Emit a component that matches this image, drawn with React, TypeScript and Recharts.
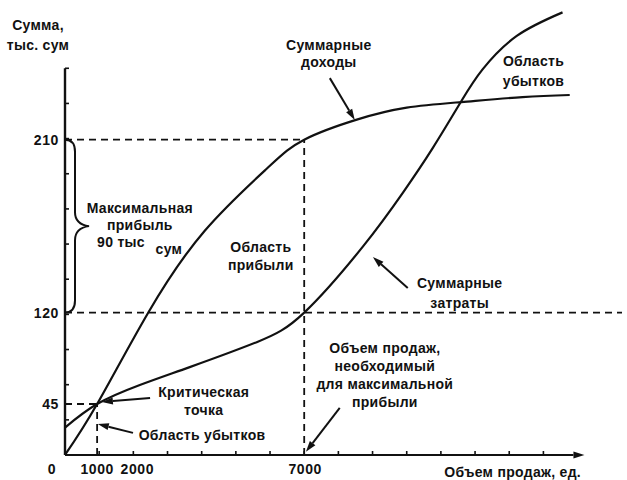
import { Line, LineChart, ReferenceDot, ReferenceLine, XAxis, YAxis } from "recharts";

// объём продаж, тыс. ед.
const revenueVolume = [0, 0.94, 2.43, 4.09, 5.91, 7.0, 8.54, 10.0, 11.6, 13.39, 14.77];
// суммы — в делениях оси Y (шкала на рисунке не линейная)
const revenueSum = [0, 1.45, 4.04, 6.38, 8.15, 8.97, 9.54, 9.88, 10.04, 10.18, 10.24];

const costVolume = [0, 0.94, 2.19, 3.65, 5.61, 7.0, 8.71, 9.88, 10.76, 11.6, 12.22, 13.22, 14.56];
const costSum = [0.78, 1.45, 1.99, 2.5, 3.21, 4.05, 5.92, 7.45, 8.73, 10.07, 10.97, 11.92, 12.59];

const xTicks = [0, 1, 2, 3, 4, 5, 6, 7, 8, 9, 10, 11, 12, 13, 14];
const xTickLabels: Record<number, string> = { 0: "0", 1: "1000", 2: "2000", 7: "7000" };

const yGridTicks = [1, 2, 3, 4, 5, 6, 7, 8, 9, 10, 11];
const ySumLabels = ["45", "120", "210"];
const ySumLevels = [1.45, 4.05, 8.97];

const breakEven = { x: 0.94, y: 1.45 };
const bestVolume = 7;

const revenue = revenueVolume.map((x, i) => ({ x, y: revenueSum[i] }));
const cost = costVolume.map((x, i) => ({ x, y: costSum[i] }));

const FONT = "'Liberation Sans', Arial, sans-serif";
const INK = "#111";

function XTick(props: any) {
  const { x, y, payload } = props;
  const v = payload.value;
  const label = xTickLabels[v];
  const dx = v === 0 ? -13 : v === 1 ? -2 : v === 2 ? 4 : 1;
  return (
    <g>
      {v > 0 && <line x1={x} y1={y} x2={x} y2={y - 4} stroke={INK} strokeWidth={1.6} />}
      {label && (
        <text x={x + dx} y={y + 14} textAnchor="middle" dominantBaseline="central"
          fontFamily={FONT} fontWeight="bold" fontSize={14} letterSpacing={0.6} fill={INK}>
          {label}
        </text>
      )}
    </g>
  );
}

function YTick(props: any) {
  const { x, y, payload } = props;
  const idx = ySumLevels.indexOf(payload.value);
  if (idx >= 0) {
    return (
      <text x={x - 6} y={y} textAnchor="end" dominantBaseline="central"
        fontFamily={FONT} fontWeight="bold" fontSize={14} letterSpacing={0.6} fill={INK}>
        {ySumLabels[idx]}
      </text>
    );
  }
  return <line x1={x} y1={y} x2={x + 4} y2={y} stroke={INK} strokeWidth={1.6} />;
}

function arrowShape(p: any) {
  const { x1, y1, x2, y2 } = p;
  const a = Math.atan2(y2 - y1, x2 - x1);
  const len = 11;
  const w = 3.5;
  const bx = x2 - len * Math.cos(a);
  const by = y2 - len * Math.sin(a);
  const nx = -Math.sin(a) * w;
  const ny = Math.cos(a) * w;
  return (
    <g>
      <line x1={x1} y1={y1} x2={bx} y2={by} stroke={INK} strokeWidth={2} />
      <polygon points={`${x2},${y2} ${bx + nx},${by + ny} ${bx - nx},${by - ny}`} fill={INK} />
    </g>
  );
}

function braceShape(p: any) {
  const { x1, y1, y2 } = p;
  const top = Math.min(y1, y2);
  const bot = Math.max(y1, y2);
  const mid = (top + bot) / 2;
  const bx = x1 + 10;
  const d = `M${x1},${top} Q${bx},${top} ${bx},${top + 12} L${bx},${mid - 14} Q${bx},${mid - 2} ${x1 + 24},${mid}
    Q${bx},${mid + 2} ${bx},${mid + 14} L${bx},${bot - 12} Q${bx},${bot} ${x1},${bot}`;
  return <path d={d} fill="none" stroke={INK} strokeWidth={2} />;
}

function note(lines: string[], gap = 18) {
  return (p: any) => (
    <text x={p.cx} y={p.cy} textAnchor="middle" dominantBaseline="central"
      fontFamily={FONT} fontWeight="bold" fontSize={14} letterSpacing={0.3} fill={INK}>
      {lines.map((t, i) => (
        <tspan key={i} x={p.cx} dy={i === 0 ? 0 : gap}>{t}</tspan>
      ))}
    </text>
  );
}

const dash = { stroke: INK, strokeWidth: 1.8, strokeDasharray: "7 5", ifOverflow: "visible" as const };

export default function App() {
  return (
    <div style={{ position: "absolute", left: 0, top: 0, width: 627, height: 480, background: "#fff" }}>
      <LineChart width={627} height={480} margin={{ top: 5, right: 5, bottom: 0, left: 0 }}>
        <XAxis type="number" dataKey="x" domain={[0, 16.3]} ticks={xTicks} interval={0}
          axisLine={false} tickLine={false} tickSize={0} tickMargin={0} height={25} tick={<XTick />} />
        <YAxis type="number" domain={[0, 12.8]} ticks={[...yGridTicks, ...ySumLevels].sort((a, b) => a - b)}
          interval={0} axisLine={false} tickLine={false} tickSize={0} tickMargin={0} width={65} tick={<YTick />} />

        {/* оси */}
        <ReferenceLine segment={[{ x: 0, y: 0 }, { x: 0, y: 11 }]} stroke={INK} strokeWidth={2.4} ifOverflow="visible" />
        <ReferenceLine segment={[{ x: 0, y: 0 }, { x: 15.2, y: 0 }]} ifOverflow="visible" shape={arrowShape} />

        {/* пунктирные уровни */}
        <ReferenceLine segment={[{ x: 0, y: ySumLevels[2] }, { x: bestVolume, y: ySumLevels[2] }]} {...dash} />
        <ReferenceLine segment={[{ x: bestVolume, y: 0 }, { x: bestVolume, y: ySumLevels[2] }]} {...dash} />
        <ReferenceLine segment={[{ x: 0, y: ySumLevels[1] }, { x: 16.3, y: ySumLevels[1] }]} {...dash} />
        <ReferenceLine segment={[{ x: 0, y: breakEven.y }, { x: breakEven.x, y: breakEven.y }]} {...dash} />
        <ReferenceLine segment={[{ x: breakEven.x, y: 0 }, { x: breakEven.x, y: breakEven.y }]} {...dash} />

        <ReferenceLine segment={[{ x: 0, y: ySumLevels[2] }, { x: 0, y: ySumLevels[1] }]} ifOverflow="visible" shape={braceShape} />

        <Line data={revenue} dataKey="y" type="natural" stroke={INK} strokeWidth={2.2} dot={false} isAnimationActive={false} />
        <Line data={cost} dataKey="y" type="natural" stroke={INK} strokeWidth={2.2} dot={false} isAnimationActive={false} />

        {/* стрелки-выноски */}
        <ReferenceLine segment={[{ x: 2.49, y: 1.62 }, { x: 1.08, y: 1.51 }]} ifOverflow="visible" shape={arrowShape} />
        <ReferenceLine segment={[{ x: 1.99, y: 0.63 }, { x: 0.96, y: 0.88 }]} ifOverflow="visible" shape={arrowShape} />
        <ReferenceLine segment={[{ x: 7.75, y: 10.72 }, { x: 8.48, y: 9.53 }]} ifOverflow="visible" shape={arrowShape} />
        <ReferenceLine segment={[{ x: 10.03, y: 4.75 }, { x: 9.01, y: 5.63 }]} ifOverflow="visible" shape={arrowShape} />
        <ReferenceLine segment={[{ x: 8.04, y: 1.34 }, { x: 7.05, y: 0.09 }]} ifOverflow="visible" shape={arrowShape} />

        {/* подписи */}
        <ReferenceDot x={-0.79} y={12.23} r={0} ifOverflow="visible" shape={note(["Сумма,", "тыс. сум"], 20)} />
        <ReferenceDot x={2.19} y={7.02} r={0} ifOverflow="visible" shape={note(["Максимальная", "прибыль"], 17)} />
        <ReferenceDot x={1.64} y={6.06} r={0} ifOverflow="visible" shape={note(["90 тыс"])} />
        <ReferenceDot x={3.04} y={5.86} r={0} ifOverflow="visible" shape={note(["сум"])} />
        <ReferenceDot x={5.73} y={5.92} r={0} ifOverflow="visible" shape={note(["Область", "прибыли"])} />
        <ReferenceDot x={4.06} y={1.79} r={0} ifOverflow="visible" shape={note(["Критическая", "точка"])} />
        <ReferenceDot x={4.01} y={0.57} r={0} ifOverflow="visible" shape={note(["Область убытков"])} />
        <ReferenceDot x={7.72} y={11.66} r={0} ifOverflow="visible" shape={note(["Суммарные", "доходы"], 17)} />
        <ReferenceDot x={11.55} y={4.89} r={0} ifOverflow="visible" shape={note(["Суммарные", "затраты"], 20)} />
        <ReferenceDot x={13.71} y={11.21} r={0} ifOverflow="visible" shape={note(["Область", "убытков"], 20)} />
        <ReferenceDot x={9.36} y={3.04} r={0} ifOverflow="visible"
          shape={note(["Объем продаж,", "необходимый", "для максимальной", "прибыли"])} />
        <ReferenceDot x={13.1} y={-0.48} r={0} ifOverflow="visible" shape={note(["Объем продаж, ед."])} />
      </LineChart>
    </div>
  );
}
